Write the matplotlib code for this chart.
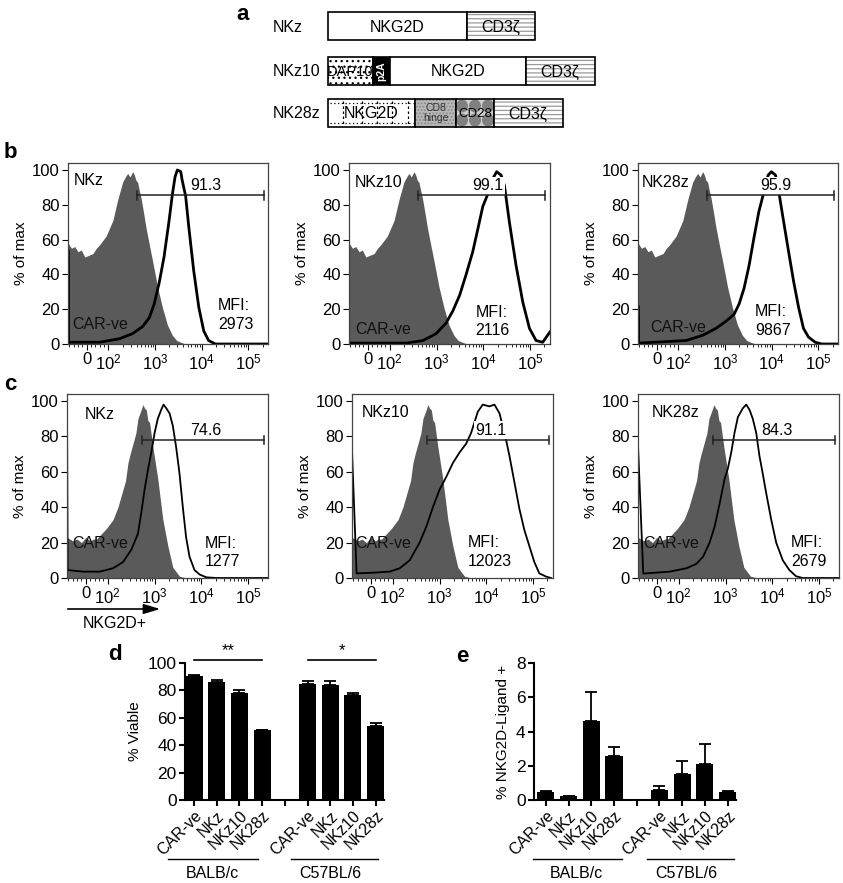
import numpy as np
import matplotlib.pyplot as plt
import matplotlib.transforms as mtransforms
from matplotlib.patches import Rectangle, Ellipse

plt.rcParams['font.family'] = ['Liberation Sans', 'DejaVu Sans']
plt.rcParams['mathtext.fontset'] = 'custom'
plt.rcParams['mathtext.rm'] = 'Liberation Sans'
plt.rcParams['hatch.linewidth'] = 0.9

# ---------------------------------------------------------------- data
# panel a: construct names and their domains
constructs = ['NKz', 'NKz10', 'NK28z']
nkz_parts = ['NKG2D', 'CD3ζ']
nkz10_parts = ['DAP10', 'p2A', 'NKG2D', 'CD3ζ']
nk28z_parts = ['NKG2D', 'CD8\nhinge', 'CD28', 'CD3ζ']

# panels b/c: CAR-ve control histograms (fluorescence, % of max)
neg_b_x = [-86, -70, -55, -40, -25, -9, 10, 29, 44, 59, 89, 124, 158, 201, 230, 257,
           290, 329, 360, 388, 420, 460, 497, 560, 635, 750, 876, 1000, 1120, 1430,
           1830, 2340, 2900, 3540, 4500]
neg_b_y = [58, 55, 56, 53, 54, 50, 51, 52, 55, 57, 62, 71, 83, 93, 96, 98,
           96, 99, 97, 94, 93, 88, 84, 76, 67, 57, 48, 40, 33, 21,
           11, 5, 2, 1, 0]
neg_c_x = [-86, -60, -40, -20, 0, 20, 35, 49, 64, 94, 130, 165, 212, 240, 270, 300,
           347, 400, 441, 500, 565, 610, 665, 720, 780, 920, 1170, 1500, 1920, 2450,
           3400, 4700]
neg_c_y = [23, 21, 22, 20, 23, 21, 22, 22, 24, 28, 33, 40, 50, 55, 65, 70,
           76, 82, 90, 94, 98, 96, 95, 89, 88, 74, 56, 33, 18, 6,
           1, 0]

# panel b: CAR+ histograms
b_nkz_x = [-86, -86, -83, 59, 171, 329, 537, 745, 953, 1216, 1550, 1990, 2340, 2670,
           2990, 3540, 3800, 4500, 5270, 6710, 8630, 11000, 14000, 19500, 262144]
b_nkz_y = [0, 54, 1, 1, 3, 6, 10, 15, 23, 35, 50, 71, 86, 96,
           100, 99, 94, 85, 67, 42, 21, 7.5, 2, 0, 0]
b_nkz10_x = [-86, 227, 515, 980, 1590, 2220, 3100, 4270, 5900, 7570, 9660, 12300,
             15800, 19100, 23800, 28000, 35700, 49600, 69000, 95600, 132000, 183000,
             233000, 262144]
b_nkz10_y = [0.5, 0.5, 2, 6, 12, 19, 28, 40, 53, 66, 79, 86,
             95, 99, 97, 91, 70, 45, 24, 9, 2, 1,
             5, 7]
b_nk28z_x = [-86, -86, -83, 146, 330, 635, 1030, 1550, 1990, 2540, 3250, 4140, 5270,
             6710, 8330, 9800, 12000, 14600, 18000, 22900, 29300, 37500, 47700, 61000,
             85000, 118000, 262144]
b_nk28z_y = [0, 22, 0.5, 2, 5, 9, 13, 17, 23, 32, 45, 61, 76,
             87, 97, 99, 97, 85, 70, 53, 36, 21, 9, 4,
             1, 0, 0]

# panel c: CAR+ histograms
c_nkz_x = [-86, -86, -83, -12, 64, 130, 212, 319, 441, 521, 612, 720, 850, 1000, 1170,
           1380, 1550, 1770, 2090, 2450, 2880, 3400, 4000, 4700, 5560, 7100, 9100,
           12600, 20500, 262144]
c_nkz_y = [0, 100, 4.5, 3.6, 3.6, 5.5, 9, 16, 25, 37, 50, 61, 71, 82, 90,
           95, 98, 96, 93, 86, 74, 59, 40, 23, 12, 4.5, 2,
           0.4, 0, 0]
c_nkz10_x = [-86, -86, -65, 10, 86, 141, 230, 375, 521, 720, 1000, 1380, 1920, 2670,
             3700, 4700, 6530, 8330, 11600, 14800, 19000, 26200, 30900, 39500, 50400,
             64400, 82200, 105000, 134000, 187000, 238000]
c_nkz10_y = [0, 72, 2.6, 3, 3.6, 5.5, 10, 20, 29, 40, 50, 57, 65, 71,
             76, 82, 94, 98, 97, 98, 93, 78, 69, 54, 39,
             27, 18, 9, 2.6, 0.8, 0]
c_nk28z_x = [-86, -86, -62, 59, 146, 238, 330, 456, 583, 745, 953, 1120, 1320, 1550,
             1830, 2340, 2760, 3250, 3800, 4500, 5270, 6200, 7340, 9400, 12000, 16600,
             22900, 31800, 44200, 262144]
c_nk28z_y = [0, 75, 2.5, 3.6, 5.5, 8, 12, 20, 29, 42, 56, 62, 71, 82,
             91, 96, 98, 95, 90, 82, 69, 59, 48, 33, 20, 10,
             4.5, 1, 0, 0]

b_pct = ['91.3', '99.1', '95.9']
b_mfi = ['2973', '2116', '9867']
c_pct = ['74.6', '91.1', '84.3']
c_mfi = ['1277', '12023', '2679']
b_gate = (400, 210000, 85.5)
c_gate = (550, 220000, 78)

# panels d/e
cats = ['CAR-ve', 'NKz', 'NKz10', 'NK28z']
groups = ['BALB/c', 'C57BL/6']
viable_balb = [90.3, 86.3, 78.2, 51.0]
viable_balb_err = [0.6, 1.6, 2.0, 0.0]
viable_c57 = [85.0, 83.6, 76.4, 53.8]
viable_c57_err = [1.9, 3.4, 1.6, 2.7]
lig_balb = [0.47, 0.22, 4.62, 2.56]
lig_balb_err = [0.05, 0.0, 1.69, 0.51]
lig_c57 = [0.58, 1.51, 2.10, 0.45]
lig_c57_err = [0.25, 0.78, 1.16, 0.08]

# ---------------------------------------------------------------- figure
W, H = 843, 883
fig = plt.figure(figsize=(W / 100, H / 100), dpi=100)
GRAY = '#5a5a5a'
TXT = 11.5


def px_axes(x0, y0, x1, y1):
    return fig.add_axes([x0 / W, 1 - y1 / H, (x1 - x0) / W, (y1 - y0) / H])


# overlay in pixel coordinates for panel a and free annotations
ov = fig.add_axes([0, 0, 1, 1])
ov.set_xlim(0, W)
ov.set_ylim(H, 0)
ov.axis('off')


def seg(x0, x1, y0, y1, face='white', hatch=None, hcolor='black'):
    ov.add_patch(Rectangle((x0, y0), x1 - x0, y1 - y0, facecolor=face, lw=0))
    if hatch:
        ov.add_patch(Rectangle((x0, y0), x1 - x0, y1 - y0, facecolor='none',
                               edgecolor=hcolor, hatch=hatch, lw=0))
    ov.add_patch(Rectangle((x0, y0), x1 - x0, y1 - y0, facecolor='none',
                           edgecolor='black', lw=1.2))


# ---- panel a
rows_y = [(12, 40), (57, 85), (99, 127)]
for name, (y0, y1) in zip(constructs, rows_y):
    ov.text(273, (y0 + y1) / 2 + 1, name, fontsize=11.5, ha='left', va='center')

y0, y1 = rows_y[0]
seg(328, 467, y0, y1)
seg(467, 535, y0, y1, hatch='----', hcolor='#9a9a9a')
ov.text(397, 27, nkz_parts[0], fontsize=11.5, ha='center', va='center')
ov.text(501, 27, nkz_parts[1], fontsize=11.5, ha='center', va='center')

y0, y1 = rows_y[1]
seg(328, 373, y0, y1, hatch='...', hcolor='black')
seg(373, 390, y0, y1, face='black')
seg(390, 526, y0, y1)
seg(526, 595, y0, y1, hatch='----', hcolor='#9a9a9a')
ov.text(350, 72, nkz10_parts[0], fontsize=10.5, ha='center', va='center')
ov.text(381.5, 71, nkz10_parts[1], fontsize=7.5, ha='center', va='center',
        rotation=90, color='white', fontweight='bold')
ov.text(458, 72, nkz10_parts[2], fontsize=11.5, ha='center', va='center')
ov.text(560, 72, nkz10_parts[3], fontsize=11.5, ha='center', va='center')

y0, y1 = rows_y[2]
seg(328, 415, y0, y1)
for xv in [343, 362, 377, 392, 408]:
    ov.plot([xv, xv], [y0 + 2, y1 - 2], color='black', lw=0.9, ls=(0, (2, 2)))
for yv in [103, 123]:
    ov.plot([330, 413], [yv, yv], color='black', lw=0.9, ls=(0, (1, 2)))
seg(415, 456, y0, y1, face='#b8b8b8', hatch='.....', hcolor='#8a8a8a')
ov.add_patch(Rectangle((456, y0), 38, y1 - y0, facecolor='#cfcfcf', lw=0))
clip = Rectangle((456, y0), 38, y1 - y0, transform=ov.transData)
for cx in [462, 475, 488]:
    for cy in [106, 120]:
        e = Ellipse((cx, cy), 12, 13, facecolor='#808080', lw=0)
        ov.add_patch(e)
        e.set_clip_path(clip)
ov.add_patch(Rectangle((456, y0), 38, y1 - y0, facecolor='none', edgecolor='black', lw=1.2))
seg(494, 563, y0, y1, hatch='----', hcolor='#9a9a9a')
ov.text(371, 114, nk28z_parts[0], fontsize=11.5, ha='center', va='center')
ov.text(435.5, 113, nk28z_parts[1], fontsize=7.5, ha='center', va='center',
        color='#333333', linespacing=1.0)
ov.text(475, 114, nk28z_parts[2], fontsize=9.5, ha='center', va='center')
ov.text(528, 114, nk28z_parts[3], fontsize=11.5, ha='center', va='center')

# panel letters
for lab, x, y in [('a', 243, 15), ('b', 10, 153), ('c', 10, 385),
                  ('d', 115, 655), ('e', 462, 656)]:
    ov.text(x, y, lab, fontsize=16, fontweight='bold', ha='center', va='center')

# NKG2D+ arrow
ov.annotate('', xy=(163, 609), xytext=(65, 609),
            arrowprops=dict(arrowstyle='-|>,head_length=1.0,head_width=0.3',
                            color='black', lw=1.2))
ov.text(83, 623, 'NKG2D+', fontsize=TXT, ha='left', va='center')


# ---- panels b / c
def hist_panel(box, neg_x, neg_y, pos_x, pos_y, lw, name, name_xy, pct, gate,
               mfi, mfi_xy, neg_xy):
    ax = px_axes(*box)
    ax.fill_between(neg_x, neg_y, color=GRAY, lw=0, zorder=1)
    ax.plot(pos_x, pos_y, color='black', lw=lw, zorder=2, solid_joinstyle='round')
    ax.set_xscale('symlog', linthresh=100, linscale=0.42)
    ax.set_xlim(-86, 262144)
    ax.set_ylim(0, 104)
    ax.set_xticks([0, 100, 1000, 10000, 100000])
    ax.set_xticklabels(['0', r'$\mathregular{10^2}$', r'$\mathregular{10^3}$',
                        r'$\mathregular{10^4}$', r'$\mathregular{10^5}$'])
    minors = [-80, -60, -40, -20, 20, 40, 60, 80]
    for dec in [100, 1000, 10000]:
        minors += [k * dec for k in range(2, 10)]
    minors += [200000]
    ax.set_xticks(minors, minor=True)
    ax.set_yticks([0, 20, 40, 60, 80, 100])
    ax.tick_params(labelsize=12, direction='out', length=4, width=0.8, pad=2)
    ax.tick_params(which='minor', length=2.5, width=0.6)
    for s in ax.spines.values():
        s.set_color('#444444')
        s.set_linewidth(0.9)
    ax.set_ylabel('% of max', fontsize=11, labelpad=3)
    lo, hi, gy = gate
    ax.plot([lo, hi], [gy, gy], color='#222222', lw=1.1, zorder=3)
    ax.plot([lo, lo], [gy - 2.5, gy + 2.5], color='#222222', lw=1.1, zorder=3)
    ax.plot([hi, hi], [gy - 2.5, gy + 2.5], color='#222222', lw=1.1, zorder=3)
    ax.text(0.69, (gy + 5.5) / 104, pct, transform=ax.transAxes, fontsize=TXT,
            ha='center', va='center', zorder=2.5,
            bbox=dict(facecolor='white', edgecolor='none', pad=1.2))
    ax.text(name_xy[0], name_xy[1], name, transform=ax.transAxes, fontsize=TXT,
            ha='left', va='center', zorder=4)
    ax.text(neg_xy[0], neg_xy[1], 'CAR-ve', transform=ax.transAxes, fontsize=TXT,
            ha='left', va='center', color='#111111', zorder=4)
    ax.text(mfi_xy[0], mfi_xy[1], 'MFI:\n' + mfi, transform=ax.transAxes,
            fontsize=TXT, ha='left', va='center', linespacing=1.3, zorder=4)
    return ax


b_boxes = [(68, 163, 268, 344), (349, 163, 550, 344), (638, 163, 838, 344)]
c_boxes = [(67, 394, 268, 578), (352, 394, 553, 578), (638, 394, 839, 578)]
b_curves = [(b_nkz_x, b_nkz_y), (b_nkz10_x, b_nkz10_y), (b_nk28z_x, b_nk28z_y)]
c_curves = [(c_nkz_x, c_nkz_y), (c_nkz10_x, c_nkz10_y), (c_nk28z_x, c_nk28z_y)]
b_name_xy = [(0.03, 0.905), (0.03, 0.895), (0.02, 0.895)]
c_name_xy = [(0.09, 0.89), (0.05, 0.90), (0.07, 0.90)]
b_mfi_xy = [(0.75, 0.16), (0.63, 0.125), (0.585, 0.128)]
c_mfi_xy = [(0.685, 0.138), (0.575, 0.14), (0.76, 0.14)]
b_neg_xy = [(0.02, 0.11), (0.03, 0.082), (0.06, 0.09)]
c_neg_xy = [(0.025, 0.19), (0.015, 0.19), (0.025, 0.19)]

for i in range(3):
    hist_panel(b_boxes[i], neg_b_x, neg_b_y, *b_curves[i], 2.0, constructs[i],
               b_name_xy[i], b_pct[i], b_gate, b_mfi[i], b_mfi_xy[i], b_neg_xy[i])
    hist_panel(c_boxes[i], neg_c_x, neg_c_y, *c_curves[i], 1.3, constructs[i],
               c_name_xy[i], c_pct[i], c_gate, c_mfi[i], c_mfi_xy[i], c_neg_xy[i])


# ---- panels d / e
pos = [0, 1, 2, 3, 5, 6, 7, 8]
ticklabels = cats + [''] + cats


def bar_panel(box, xlim, vals, errs, ylim, yticks, ylabel, grp_spans, grp_text_x):
    ax = px_axes(*box)
    ax.bar(pos, vals, width=0.75, color='black')
    ax.errorbar(pos, vals, yerr=[np.zeros(len(vals)), errs], fmt='none',
                ecolor='black', elinewidth=1.3, capsize=4, capthick=1.3)
    ax.set_xlim(*xlim)
    ax.set_ylim(*ylim)
    ax.set_yticks(yticks)
    ax.set_xticks(range(9))
    ax.set_xticklabels(ticklabels, rotation=45, ha='right', rotation_mode='anchor',
                       fontsize=11.5)
    ax.tick_params(axis='y', labelsize=12.5, width=1.5, length=4, pad=2)
    ax.tick_params(axis='x', width=1.5, length=4, pad=2)
    for s in ['top', 'right']:
        ax.spines[s].set_visible(False)
    for s in ['left', 'bottom']:
        ax.spines[s].set_linewidth(1.5)
    ax.set_ylabel(ylabel, fontsize=11, labelpad=4)
    tr = mtransforms.blended_transform_factory(ax.transData, ax.transAxes)
    for (x0, x1), tx, g in zip(grp_spans, grp_text_x, groups):
        ax.plot([x0, x1], [-0.43, -0.43], transform=tr, clip_on=False,
                color='black', lw=1)
        ax.text(tx, -0.535, g, transform=tr, fontsize=TXT, ha='center', va='center')
    return ax


axd = bar_panel((185, 663, 384, 800), (-0.4, 8.37),
                viable_balb + viable_c57, viable_balb_err + viable_c57_err,
                (0, 100), [0, 20, 40, 60, 80, 100], '% Viable',
                [(-1.15, 2.8), (4.27, 8.1)], [0.8, 6.0])
axd.plot([0, 3], [102.5, 102.5], color='black', lw=1.2, clip_on=False)
axd.plot([5, 8], [102.5, 102.5], color='black', lw=1.2, clip_on=False)
axd.text(1.5, 103.5, '**', fontsize=12, ha='center', va='bottom')
axd.text(6.5, 103.5, '*', fontsize=12, ha='center', va='bottom')

axe = bar_panel((534, 663, 736, 800), (-0.52, 8.37),
                lig_balb + lig_c57, lig_balb_err + lig_c57_err,
                (0, 8), [0, 2, 4, 6, 8], '% NKG2D-Ligand +',
                [(-0.57, 3.34), (4.44, 8.3)], [1.36, 6.2])

fig.savefig('out.png', dpi=100)
